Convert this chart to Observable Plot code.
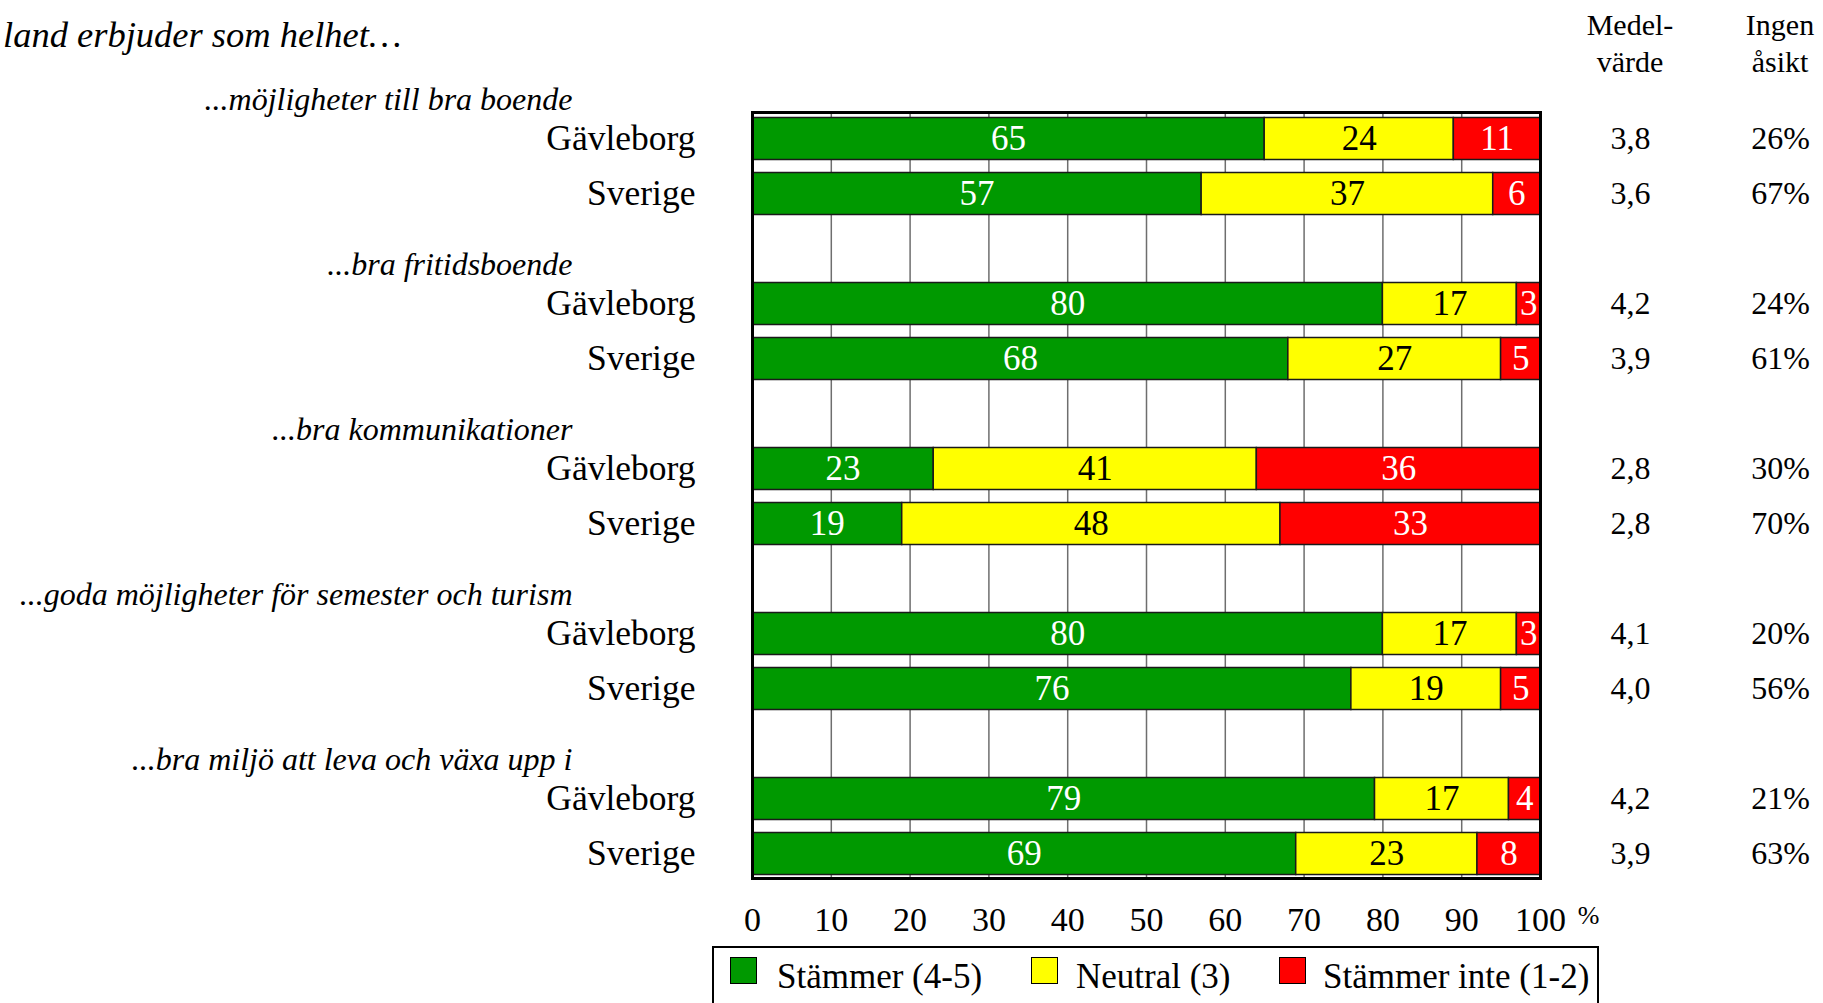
<!DOCTYPE html>
<html><head><meta charset="utf-8">
<script src="https://cdn.jsdelivr.net/npm/d3@7"></script>
<script src="https://cdn.jsdelivr.net/npm/@observablehq/plot@0.6"></script>
<style>
body{margin:0;background:#fff;font-family:"Liberation Serif","Times New Roman",serif;color:#000;}
#wrap{position:relative;width:1823px;height:1003px;overflow:hidden;background:#fff;}
#chart{position:absolute;left:0;top:0;}
#chart svg text{font-family:"Liberation Serif","Times New Roman",serif;}
.title{position:absolute;left:3px;top:17px;font-style:italic;font-size:36.5px;line-height:1;white-space:nowrap;}
.colhead{position:absolute;width:200px;text-align:center;font-size:30px;line-height:37px;top:6px;}
.legend{position:absolute;left:712px;top:946px;width:883px;height:80px;border:2px solid #000;}
.sw{position:absolute;width:25px;height:25px;border:1px solid #000;top:9px;}
.lt{position:absolute;font-size:35px;line-height:1;top:11px;white-space:nowrap;}
</style>
</head><body>
<div id="wrap">
  <div class="title">land erbjuder som helhet…</div>
  <div class="colhead" style="left:1530px">Medel-<br>värde</div>
  <div class="colhead" style="left:1680px">Ingen<br>åsikt</div>
  <div id="chart"></div>
  <div class="legend" id="legend"></div>
</div>
<script>
// ---- data ----
const groups = [
  "...möjligheter till bra boende",
  "...bra fritidsboende",
  "...bra kommunikationer",
  "...goda möjligheter för semester och turism",
  "...bra miljö att leva och växa upp i"
];
const regions = ["Gävleborg", "Sverige"];
const categories = ["Stämmer (4-5)", "Neutral (3)", "Stämmer inte (1-2)"];
const categoryColors = ["#009900", "#ffff00", "#ff0000"];
const stammer =     [65, 57, 80, 68, 23, 19, 80, 76, 79, 69];
const neutral =     [24, 37, 17, 27, 41, 48, 17, 19, 17, 23];
const stammerInte = [11,  6,  3,  5, 36, 33,  3,  5,  4,  8];
const medelvarde = ["3,8","3,6","4,2","3,9","2,8","2,8","4,1","4,0","4,2","3,9"];
const ingenAsikt = ["26%","67%","24%","61%","30%","70%","20%","56%","21%","63%"];
const xTicks = [0,10,20,30,40,50,60,70,80,90,100];
const gridTicks = [10,20,30,40,50,60,70,80,90];

// ---- build tables ----
const rowDomain = [];
const rows = [];
const headers = [];
groups.forEach((g, gi) => {
  if (gi > 0) rowDomain.push(gi + "-H");
  regions.forEach((r, ri) => {
    const key = gi + "-" + r;
    rowDomain.push(key);
    const idx = gi * 2 + ri;
    rows.push({row: key, region: r, medel: medelvarde[idx], ingen: ingenAsikt[idx],
               vals: [stammer[idx], neutral[idx], stammerInte[idx]]});
    if (ri === 0) headers.push({row: key, group: g});
  });
});
const segs = [];
rows.forEach(r => {
  let acc = 0;
  r.vals.forEach((v, ci) => {
    segs.push({row: r.row, cat: categories[ci], value: v, x1: acc, x2: acc + v});
    acc += v;
  });
});

const light = segs.filter(d => d.cat !== categories[1]);
const dark = segs.filter(d => d.cat === categories[1]);
const FF = "'Liberation Serif','Times New Roman',serif";

const chart = Plot.plot({
  width: 1823,
  height: 940,
  marginLeft: 752,
  marginRight: 283,
  marginTop: 112,
  marginBottom: 62,
  style: {fontFamily: FF, fontSize: "34px", color: "#000", background: "transparent", overflow: "visible"},
  x: {domain: [0, 100], axis: null},
  y: {domain: rowDomain, axis: null, padding: 0, round: false, range: [111, 881]},
  color: {domain: categories, range: categoryColors},
  marks: [
    Plot.ruleX(gridTicks, {stroke: "#6e6e6e", strokeWidth: 1.5}),
    Plot.barX(segs, {x1: "x1", x2: "x2", y: "row", fill: "cat", stroke: "#1a1a1a", strokeWidth: 1.5, insetTop: 6.5, insetBottom: 6.5}),
    Plot.text(light, {x: d => (d.x1 + d.x2) / 2, y: "row", text: d => String(d.value), fill: "white", fontSize: 35, fontFamily: FF}),
    Plot.text(dark, {x: d => (d.x1 + d.x2) / 2, y: "row", text: d => String(d.value), fill: "black", fontSize: 35, fontFamily: FF}),
    Plot.text(rows, {y: "row", text: "region", frameAnchor: "left", dx: -57, textAnchor: "end", fontSize: 35.5, fill: "black", fontFamily: FF}),
    Plot.text(headers, {y: "row", text: "group", frameAnchor: "left", dx: -180, dy: -39, textAnchor: "end", fontStyle: "italic", fontSize: 32, fill: "black", fontFamily: FF}),
    Plot.text(rows, {y: "row", text: "medel", frameAnchor: "right", dx: 90, textAnchor: "middle", fontSize: 32, fill: "black", fontFamily: FF}),
    Plot.text(rows, {y: "row", text: "ingen", frameAnchor: "right", dx: 240, textAnchor: "middle", fontSize: 32, fill: "black", fontFamily: FF}),
    Plot.text(xTicks, {x: d => d, frameAnchor: "bottom", dy: 52, textAnchor: "middle", fontSize: 34, fill: "black", fontFamily: FF}),
    Plot.text(["%"], {x: () => 100, frameAnchor: "bottom", dx: 48, dy: 45, textAnchor: "middle", fontSize: 26, fill: "black", fontFamily: FF}),
    Plot.frame({stroke: "black", strokeWidth: 3})
  ]
});
document.getElementById("chart").appendChild(chart);

// ---- legend ----
const legend = document.getElementById("legend");
const swX = [16, 317, 565];
const txX = [63, 362, 609];
categories.forEach((c, i) => {
  const s = document.createElement("div");
  s.className = "sw"; s.style.left = swX[i] + "px"; s.style.background = categoryColors[i];
  legend.appendChild(s);
  const t = document.createElement("div");
  t.className = "lt"; t.style.left = txX[i] + "px"; t.textContent = c;
  legend.appendChild(t);
});
</script>
</body></html>
